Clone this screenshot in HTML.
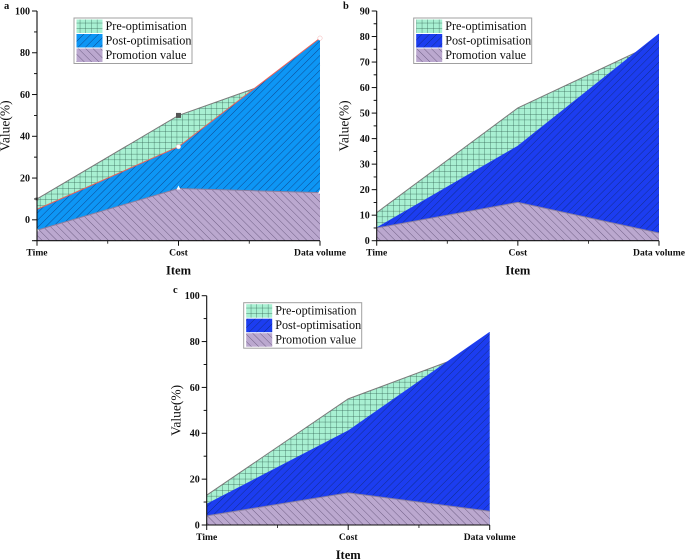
<!DOCTYPE html>
<html>
<head>
<meta charset="utf-8">
<title>Area charts a, b and c</title>
<style>
html,body{margin:0;padding:0;background:#fff;}
svg{display:block;}
text{font-family:"Liberation Serif",serif;fill:#111;}
</style>
</head>
<body>
<svg id="figure" width="685" height="560" viewBox="0 0 685 560" xmlns="http://www.w3.org/2000/svg">
<defs>
<filter id="soft" x="-5%" y="-5%" width="110%" height="110%"><feGaussianBlur stdDeviation="0.3"/></filter>
<pattern id="gridHatch" patternUnits="userSpaceOnUse" width="5.7" height="5.7">
<path d="M0 0H5.7M0 0V5.7" stroke="#2f5f50" stroke-width="0.7" fill="none"/>
</pattern>
<pattern id="upHatch" patternUnits="userSpaceOnUse" width="5.2" height="5.2" patternTransform="rotate(45)">
<path d="M0 0V5.2" stroke="#0c2560" stroke-opacity="0.75" stroke-width="0.9" fill="none"/>
</pattern>
<pattern id="downHatch" patternUnits="userSpaceOnUse" width="5.2" height="5.2" patternTransform="rotate(-45)">
<path d="M0 0V5.2" stroke="#54466a" stroke-opacity="0.8" stroke-width="0.9" fill="none"/>
</pattern>
</defs>
<g id="root" filter="url(#soft)"></g>
</svg>
<script>
const categories = ["Time", "Cost", "Data volume"];
const seriesNames = ["Pre-optimisation", "Post-optimisation", "Promotion value"];

const preA = [10, 50, 74];
const postA = [5, 35, 87];
const promoA = [-5, 15, 13];
const ticksA = [0, 20, 40, 60, 80, 100];

const preB = [11, 52, 78];
const postB = [5, 37, 81];
const promoB = [5, 15, 3];
const ticksB = [0, 10, 20, 30, 40, 50, 60, 70, 80, 90];

const preC = [13, 55, 78];
const postC = [9, 41, 84];
const promoC = [4, 14, 6];
const ticksC = [0, 20, 40, 60, 80, 100];

const NS = "http://www.w3.org/2000/svg";
const root = document.getElementById("root");

function make(tag, attrs, parent) {
  const el = document.createElementNS(NS, tag);
  for (const k in attrs) el.setAttribute(k, attrs[k]);
  parent.appendChild(el);
  return el;
}

function drawPanel(cfg) {
  const g = make("g", {}, root);
  
  

  const x = i => cfg.x0 + (cfg.x1 - cfg.x0) * i / (categories.length - 1);
  const y = v => cfg.yBottom + (cfg.yTop - cfg.yBottom) * (v - cfg.min) / (cfg.max - cfg.min);

  const series = [
    {vals: cfg.pre, fill: "#a8f0d2", hatch: "gridHatch", line: "#7a7a7a", key: "pre-optimisation"},
    {vals: cfg.post, fill: cfg.blue, hatch: "upHatch", line: cfg.redLine ? "#e8605a" : cfg.blue, key: "post-optimisation"},
    {vals: cfg.promo, fill: "#bba8cf", hatch: "downHatch", line: "#8a7fa0", key: "promotion-value"}
  ];

  series.forEach(s => {
    const top = s.vals.map((v, i) => x(i).toFixed(2) + " " + y(v).toFixed(2)).join(" L");
    const d = "M" + x(0) + " " + cfg.yBottom + " L" + top + " L" + x(categories.length - 1) + " " + cfg.yBottom + " Z";
    const base = make("path", {d: d, fill: s.fill}, g);
    
    
    const hatch = make("path", {d: d, fill: "url(#" + s.hatch + ")"}, g);
    
    
    const line = make("path", {d: "M" + top, fill: "none", stroke: s.line, "stroke-width": 1}, g);
    
    
  });

  if (cfg.markers) {
    cfg.pre.slice(0, 2).forEach((v, i) => {
      const size = i === 0 ? 3 : 5;
      const m = make("rect", {x: x(i) - size / 2, y: y(v) - size / 2, width: size, height: size, fill: i === 0 ? "#888" : "#555"}, g);
      
      
    });
    cfg.post.slice(1).forEach((v, i) => {
      const m = make("circle", {cx: x(i + 1), cy: y(v), r: 2.2, fill: "#fff", stroke: "#f3b0b0", "stroke-width": 0.5}, g);
      
      
    });
    cfg.promo.forEach((v, i) => {
      const px = x(i), py = y(v);
      const m = make("polygon", {points: (px - 2) + "," + (py + 1) + " " + (px + 2) + "," + (py + 1) + " " + px + "," + (py - 3), fill: "#fff"}, g);
      
      
    });
  }

  const axes = make("path", {
    d: "M" + cfg.x0 + " " + cfg.yTop + " V" + cfg.yBottom + " H" + cfg.x1,
    fill: "none", stroke: "#111", "stroke-width": 1.1
  }, g);
  
  

  const step = cfg.ticks[1] - cfg.ticks[0];
  cfg.ticks.forEach(t => {
    const tick = make("line", {x1: cfg.x0 - 5, x2: cfg.x0, y1: y(t), y2: y(t), stroke: "#111", "stroke-width": 1}, g);
    
    
    const label = make("text", {x: cfg.x0 - 7, y: y(t) + 3.4, "text-anchor": "end", "font-size": 10, "font-weight": "bold"}, g);
    label.textContent = t;
    
    
    [t - step / 2, t + step / 2].forEach(mv => {
      if (mv < cfg.min || mv > cfg.max) return;
      const minor = make("line", {x1: cfg.x0 - 3, x2: cfg.x0, y1: y(mv), y2: y(mv), stroke: "#111", "stroke-width": 0.8}, g);
      
      
    });
  });
  if (cfg.min < cfg.ticks[0]) {
    const low = make("line", {x1: cfg.x0 - 5, x2: cfg.x0, y1: cfg.yBottom, y2: cfg.yBottom, stroke: "#111", "stroke-width": 1}, g);
    
    
  }

  categories.forEach((c, i) => {
    const tick = make("line", {x1: x(i), x2: x(i), y1: cfg.yBottom, y2: cfg.yBottom + 5, stroke: "#111", "stroke-width": 1}, g);
    
    
    const label = make("text", {x: x(i), y: cfg.yBottom + 15, "text-anchor": "middle", "font-size": 9.6, "font-weight": "bold"}, g);
    label.textContent = c;
    
    
    if (i < categories.length - 1) {
      const mid = (x(i) + x(i + 1)) / 2;
      const minor = make("line", {x1: mid, x2: mid, y1: cfg.yBottom, y2: cfg.yBottom + 3, stroke: "#111", "stroke-width": 0.8}, g);
      
      
    }
  });

  const xTitle = make("text", {x: (cfg.x0 + cfg.x1) / 2, y: cfg.yBottom + 34, "text-anchor": "middle", "font-size": 12.5, "font-weight": "bold"}, g);
  xTitle.textContent = "Item";
  
  

  const yTitle = make("text", {
    "text-anchor": "middle", "font-size": 13.5,
    transform: "translate(" + cfg.titleX + " " + ((cfg.yTop + cfg.yBottom) / 2) + ") rotate(-90)"
  }, g);
  yTitle.textContent = "Value(%)";
  
  

  const letter = make("text", {x: cfg.letterX, y: cfg.letterY, "font-size": 10.5, "font-weight": "bold"}, g);
  letter.textContent = cfg.letter;
  
  

  const lx = cfg.x0 + 37, ly = cfg.yTop + 7;
  const legend = make("g", {}, g);
  
  
  const box = make("rect", {x: lx, y: ly, width: 118, height: 45.5, fill: "#fff", stroke: "#a0a0a0", "stroke-width": 1}, legend);
  
  
  series.forEach((s, i) => {
    const ry = ly + 1.5 + i * 14.5;
    const sw = make("rect", {x: lx + 2.5, y: ry, width: 26, height: 13.5, fill: s.fill}, legend);
    
    
    const sh = make("rect", {x: lx + 2.5, y: ry, width: 26, height: 13.5, fill: "url(#" + s.hatch + ")"}, legend);
    
    
    const label = make("text", {x: lx + 31.5, y: ry + 10.5, "font-size": 12.2}, legend);
    label.textContent = seriesNames[i];
    
    
  });
}

drawPanel({letter: "a", x0: 37, x1: 320, yTop: 11, yBottom: 240.7, min: -10, max: 100,
  pre: preA, post: postA, promo: promoA, ticks: ticksA, blue: "#0a96f5",
  redLine: true, markers: true, titleX: 9.5, letterX: 4, letterY: 9});
drawPanel({letter: "b", x0: 376.7, x1: 659, yTop: 11, yBottom: 240.7, min: 0, max: 90,
  pre: preB, post: postB, promo: promoB, ticks: ticksB, blue: "#1c3cf0",
  redLine: false, markers: false, titleX: 348.5, letterX: 343, letterY: 9});
drawPanel({letter: "c", x0: 206.7, x1: 489.7, yTop: 295.7, yBottom: 525, min: 0, max: 100,
  pre: preC, post: postC, promo: promoC, ticks: ticksC, blue: "#1c3cf0",
  redLine: false, markers: false, titleX: 180.5, letterX: 173, letterY: 293});
</script>
</body>
</html>
